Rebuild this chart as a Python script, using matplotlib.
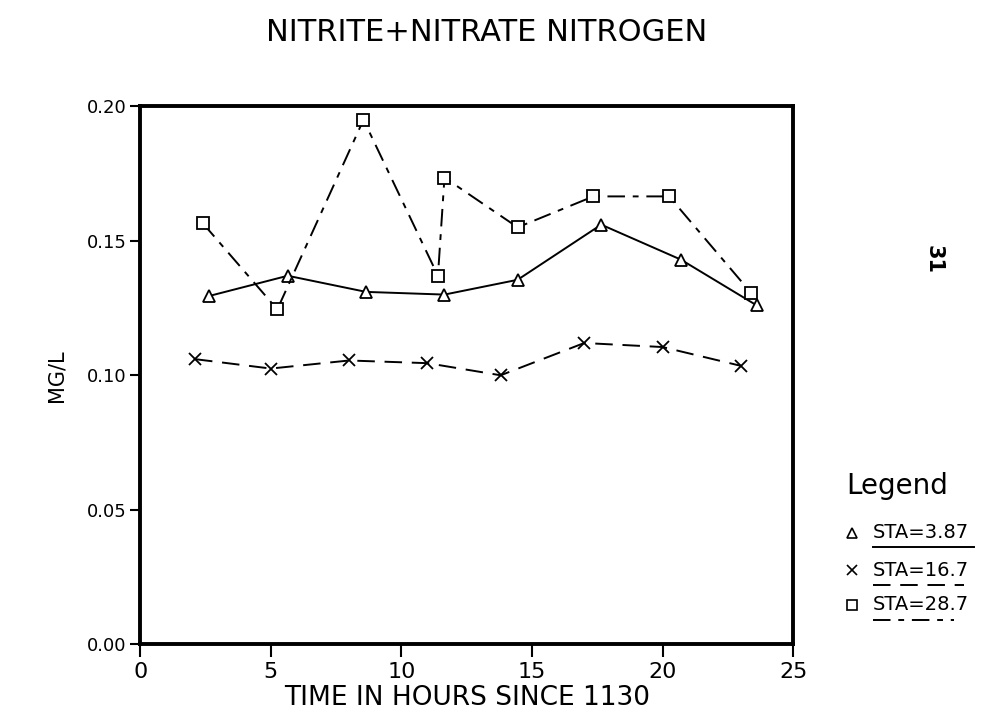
import matplotlib.pyplot as plt
from matplotlib.lines import Line2D

# ================= DATA =================
hours_sta387 = [2.65, 5.65, 8.65, 11.65, 14.45, 17.65, 20.7, 23.6]
no3_sta387 = [0.1295, 0.137, 0.131, 0.130, 0.1355, 0.156, 0.143, 0.126]

hours_sta167 = [2.1, 5.0, 8.0, 11.0, 13.8, 17.0, 20.0, 23.0]
no3_sta167 = [0.106, 0.1025, 0.1055, 0.1045, 0.100, 0.112, 0.1105, 0.1035]

hours_sta287 = [2.4, 5.25, 8.55, 11.4, 11.65, 14.45, 17.35, 20.25, 23.4]
no3_sta287 = [0.1565, 0.1245, 0.195, 0.137, 0.1735, 0.155, 0.1665, 0.1665, 0.1305]

labels = ["STA=3.87", "STA=16.7", "STA=28.7"]
# =========================================

plt.rcParams['font.family'] = ['DejaVu Sans']

fig = plt.figure(figsize=(9.94, 7.28), dpi=100)
ax = fig.add_axes([0.141, 0.115, 0.657, 0.739])

styles = [
    dict(marker='^', ls='-', dashes=()),
    dict(marker='x', ls='--', dashes=(9, 5)),
    dict(marker='s', ls='--', dashes=(9, 4, 3, 4)),
]
series = [(hours_sta387, no3_sta387), (hours_sta167, no3_sta167), (hours_sta287, no3_sta287)]

for (xs, ys), st in zip(series, styles):
    line, = ax.plot(xs, ys, color='black', lw=1.4, marker=st['marker'],
                    markersize=9, markerfacecolor='white', markeredgecolor='black',
                    markeredgewidth=1.3, ls=st['ls'])
    if st['dashes']:
        line.set_dashes(st['dashes'])

ax.set_xlim(0, 25)
ax.set_ylim(0, 0.20)
ax.set_xticks([0, 5, 10, 15, 20, 25])
ax.set_yticks([0.00, 0.05, 0.10, 0.15, 0.20])
ax.set_yticklabels(["0.00", "0.05", "0.10", "0.15", "0.20"])
ax.tick_params(axis='x', direction='out', length=9, width=1.5, labelsize=16, pad=4)
ax.tick_params(axis='y', direction='out', length=7, width=1.5, labelsize=13, pad=3)
for sp in ax.spines.values():
    sp.set_linewidth(2.8)

ax.set_xlabel("TIME IN HOURS SINCE 1130", fontsize=19, labelpad=2)
ax.set_ylabel("MG/L", fontsize=15, labelpad=14)

fig.text(0.49, 0.955, "NITRITE+NITRATE NITROGEN", fontsize=22, ha='center', va='center')

# page number on the right
fig.text(0.939, 0.643, "31", fontsize=15, fontweight='bold', rotation=-90,
         ha='center', va='center')

# legend drawn by hand on the right
fig.text(0.903, 0.332, "Legend", fontsize=20, ha='center', va='center')
leg_y = [0.268, 0.217, 0.169]
ul_end = [0.98, 0.97, 0.96]
for yy, lab, st, xe in zip(leg_y, labels, styles, ul_end):
    fig.add_artist(Line2D([0.857], [yy], marker=st['marker'], color='black',
                          markersize=7, markerfacecolor='white', markeredgewidth=1.2,
                          transform=fig.transFigure))
    fig.text(0.878, yy, lab, fontsize=14, ha='left', va='center')
    ul = Line2D([0.878, xe], [yy - 0.02, yy - 0.02], color='black', lw=1.4,
                transform=fig.transFigure)
    if st['dashes']:
        ul.set_linestyle('--')
        ul.set_dashes(st['dashes'])
    fig.add_artist(ul)

plt.savefig('out.png', dpi=100)
